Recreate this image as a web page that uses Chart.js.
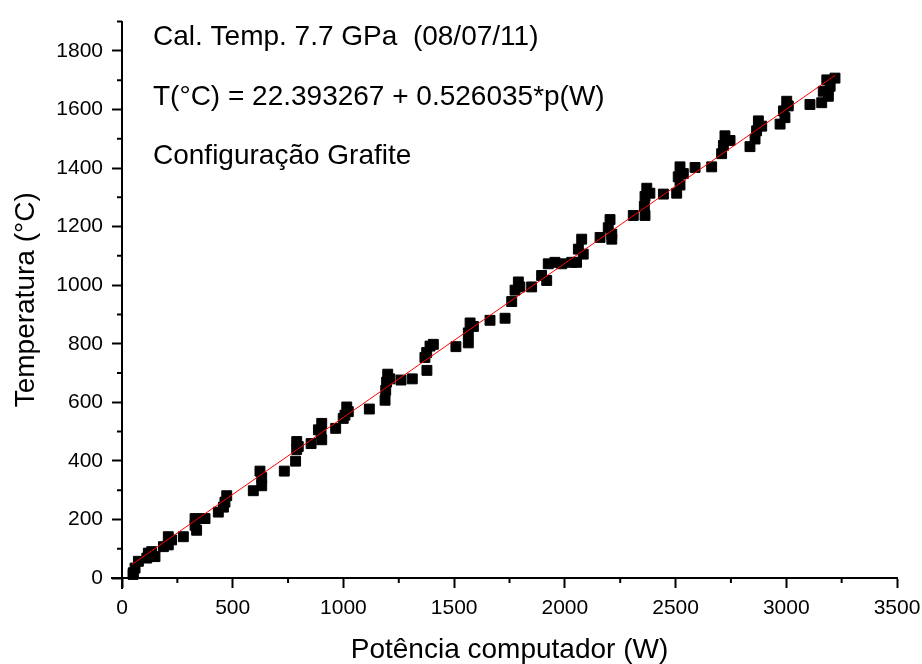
<!DOCTYPE html>
<html>
<head>
<meta charset="utf-8">
<script src="https://cdn.jsdelivr.net/npm/chart.js@4.4.0/dist/chart.umd.min.js"></script>
<style>
  html, body { margin: 0; padding: 0; background: #fff; }
</style>
</head>
<body>
<canvas id="calChart" width="922" height="664"></canvas>
<script>
// Power read by the computer (W) and measured temperature (°C), one entry per square
const powerW = [
    50, 51, 59, 74,
    112, 119, 134, 149,
    187, 209, 209, 224, 277,
    330, 330, 337, 375,
    435, 458, 465, 473,
    593, 623, 631, 631, 733,
    784, 789, 789, 796, 854,
    887, 899, 902, 902, 965,
    999, 1007, 1015, 1022, 1117,
    1188, 1191, 1195, 1200, 1210,
    1260, 1311, 1377,
    1368, 1376, 1391, 1406, 1508,
    1564, 1564, 1572, 1587, 1662, 1730,
    1760, 1775, 1790, 1797, 1850,
    1895, 1918, 1925, 1955, 1986, 2031,
    2053, 2061, 2076, 2083,
    2159, 2196, 2204, 2212, 2212, 2309,
    2359, 2362, 2362, 2370, 2384, 2445,
    2505, 2512, 2520, 2520, 2535, 2588, 2663,
    2708, 2716, 2723, 2746,
    2836, 2859, 2866, 2874, 2889,
    2972, 2987, 2994, 3002, 3009, 3107,
    3160, 3167, 3183, 3190, 3198, 3220
];
const tempC = [
    12, 18, 34, 57,
    68, 85, 90, 73,
    107, 113, 141, 130, 141,
    180, 203, 163, 203,
    225, 242, 259, 281,
    298, 365, 343, 315, 365,
    399, 439, 466, 449, 459,
    506, 494, 528, 472, 511,
    545, 556, 584, 568, 577,
    607, 641, 669, 696, 680,
    676, 680, 709,
    753, 770, 792, 798, 790,
    803, 837, 871, 859, 880, 887,
    944, 983, 1011, 994, 994,
    1033, 1016, 1073, 1078, 1073, 1078,
    1078, 1123, 1157, 1106,
    1163, 1196, 1224, 1174, 1157, 1238,
    1269, 1238, 1303, 1331, 1314, 1311,
    1314, 1370, 1342, 1404, 1381, 1402, 1404,
    1449, 1477, 1510, 1494,
    1473, 1499, 1527, 1561, 1543,
    1550, 1595, 1572, 1628, 1612, 1617,
    1623, 1662, 1701, 1645, 1679, 1707
];

// linear fit printed on the plot
const fitIntercept = 22.393267;
const fitSlope = 0.526035;
const fitRange = [46, 3222];

const xMinorTicks = [250, 750, 1250, 1750, 2250, 2750, 3250];
const yMinorTicks = [100, 300, 500, 700, 900, 1100, 1300, 1500, 1700, 1900];

const notes = [
    'Cal. Temp. 7.7 GPa  (08/07/11)',
    'T(°C) = 22.393267 + 0.526035*p(W)',
    'Configuração Grafite'
];

const FONT = '"Liberation Sans", Arial, sans-serif';

const points = powerW.map((p, i) => ({ x: p, y: tempC[i] }));
const fitLine = fitRange.map(p => ({ x: p, y: fitIntercept + fitSlope * p }));

// minor ticks, axis stubs past the origin and the text notes
const extrasPlugin = {
    id: 'extras',
    afterDraw(chart) {
        const ctx = chart.ctx;
        const xs = chart.scales.x;
        const ys = chart.scales.y;
        const x0 = xs.getPixelForValue(0);
        const y0 = ys.getPixelForValue(0);

        ctx.save();
        ctx.strokeStyle = '#000';
        ctx.lineWidth = 2;
        ctx.beginPath();
        xMinorTicks.forEach(v => {
            const px = xs.getPixelForValue(v);
            ctx.moveTo(px, y0);
            ctx.lineTo(px, y0 + 5);
        });
        yMinorTicks.forEach(v => {
            const py = ys.getPixelForValue(v);
            ctx.moveTo(x0, py);
            ctx.lineTo(x0 - 5, py);
        });
        ctx.moveTo(x0, y0);
        ctx.lineTo(x0 - 11, y0);
        ctx.moveTo(x0, y0);
        ctx.lineTo(x0, y0 + 11);
        ctx.stroke();

        ctx.fillStyle = '#000';
        ctx.font = '28px ' + FONT;
        ctx.textAlign = 'left';
        ctx.textBaseline = 'alphabetic';
        const left = chart.chartArea.left + 31;
        [45, 105, 164].forEach((y, i) => ctx.fillText(notes[i], left, y));
        ctx.restore();
    }
};

new Chart(document.getElementById('calChart'), {
    type: 'scatter',
    data: {
        datasets: [
            {
                type: 'line',
                data: fitLine,
                borderColor: '#ff0000',
                borderWidth: 1,
                pointRadius: 0,
                fill: false,
                order: 0
            },
            {
                data: points,
                pointStyle: 'rect',
                pointRadius: 7,
                backgroundColor: '#000',
                borderColor: '#000',
                borderWidth: 1,
                clip: false,
                order: 1
            }
        ]
    },
    options: {
        responsive: false,
        animation: false,
        events: [],
        layout: {
            padding: { top: 13, right: 25, bottom: 0, left: 0 }
        },
        plugins: {
            legend: { display: false },
            tooltip: { enabled: false }
        },
        scales: {
            x: {
                type: 'linear',
                min: 0,
                max: 3500,
                afterFit: s => {
                    s.height = 86;
                    s.paddingLeft = 0;
                    s.paddingRight = 0;
                },
                border: { color: '#000', width: 2 },
                grid: { drawOnChartArea: false, color: '#000', tickLength: 10, tickWidth: 2 },
                ticks: {
                    stepSize: 500,
                    includeBounds: false,
                    color: '#000',
                    padding: 8,
                    maxRotation: 0,
                    callback: v => String(v),
                    font: { family: FONT, size: 21 }
                },
                title: {
                    display: true,
                    text: 'Potência computador (W)',
                    color: '#000',
                    font: { family: FONT, size: 28, lineHeight: 1 },
                    padding: { top: 0, bottom: 0 }
                }
            },
            y: {
                type: 'linear',
                min: 0,
                max: 1900,
                afterFit: s => { s.width = 122; },
                border: { color: '#000', width: 2 },
                grid: { drawOnChartArea: false, color: '#000', tickLength: 10, tickWidth: 2 },
                ticks: {
                    stepSize: 200,
                    includeBounds: false,
                    color: '#000',
                    padding: 9,
                    callback: v => String(v),
                    font: { family: FONT, size: 21 }
                },
                title: {
                    display: true,
                    text: 'Temperatura (°C)',
                    color: '#000',
                    font: { family: FONT, size: 28, lineHeight: 1 },
                    padding: { top: 12, bottom: 0 }
                }
            }
        }
    },
    plugins: [extrasPlugin]
});
</script>
</body>
</html>
